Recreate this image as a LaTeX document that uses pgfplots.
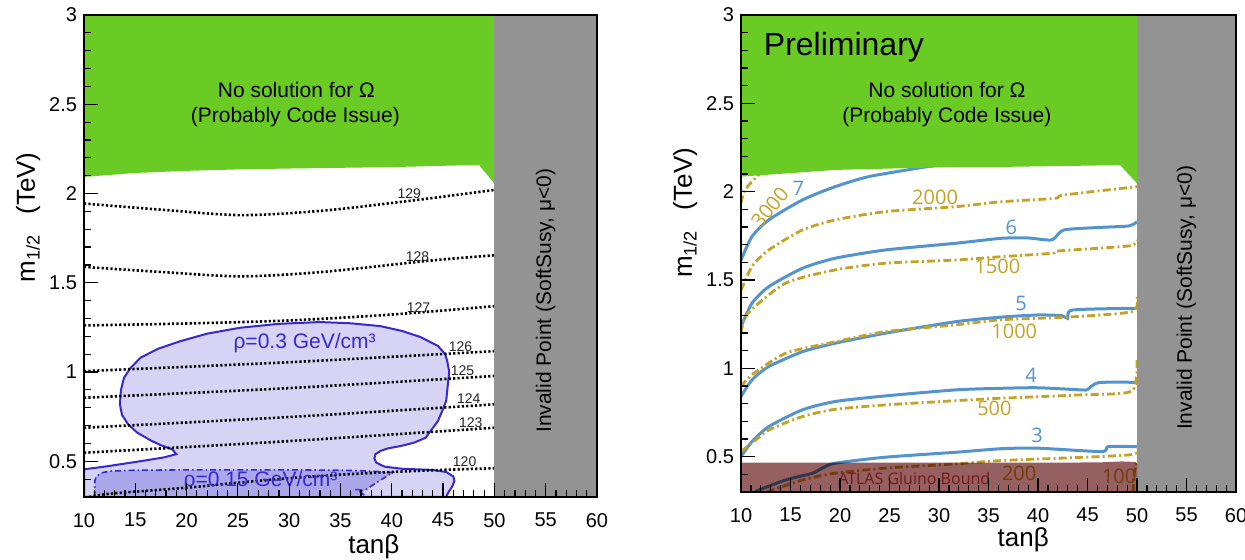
\documentclass[border=0pt]{standalone}
\usepackage{fontspec}
\setmainfont{Liberation Sans}
\newfontfamily\osans{Open Sans}
\usepackage{pgfplots}
\pgfplotsset{compat=1.18}
\definecolor{rootgreen}{RGB}{106,203,37}
\definecolor{rootgray}{RGB}{147,147,147}
\definecolor{rholine}{RGB}{55,40,210}
\definecolor{rhofill}{RGB}{214,211,244}
\definecolor{rhofillb}{RGB}{172,166,235}
\definecolor{cblue}{RGB}{84,148,206}
\definecolor{cgold}{RGB}{196,162,38}
\definecolor{atlas}{RGB}{150,96,96}
\definecolor{atlastext}{RGB}{115,25,25}
\pgfplotsset{
  panel/.style={
    scale only axis, anchor=south west,
    xmin=10, xmax=60, ymin=0.3, ymax=3,
    xtick={10,15,...,60}, ytick={0.5,1,1.5,2,2.5,3},
    minor x tick num=4,
    minor ytick={0.3,0.4,...,2.95},
    tick align=inside, tick pos=left,
    major tick length=7pt, minor tick length=3.5pt,
    every tick/.style={black, line width=0.6pt},
    axis line style={line width=1.2pt},
    axis on top,
    scaled ticks=false,
    /pgf/number format/assume math mode=true,
    tick label style={font=\fontsize{10}{12}\selectfont},
    xticklabel style={yshift=-4.5pt},
    label style={font=\fontsize{13}{15}\selectfont},
    xlabel={tanβ},
    ylabel={m\textsubscript{1/2}\hspace{10pt}(TeV)},
  },
  dotc/.style={black, line width=1.3pt, dash pattern=on 1.1pt off 1.1pt, smooth},
  bc/.style={cblue, line width=1.5pt, smooth, tension=0.4},
  gc/.style={cgold, line width=1.4pt, dash pattern=on 4pt off 1.6pt on 1pt off 1.6pt, smooth, tension=0.4},
}
\begin{document}
\begin{tikzpicture}
\useasboundingbox (0,0) rectangle (622.5pt,280pt);
% ---------------- left panel ----------------
\begin{axis}[panel, at={(42pt,31.5pt)}, width=256.5pt, height=241pt,
  xlabel style={at={(axis description cs:0.565,0)}, anchor=center, yshift=-25pt},
  ylabel style={at={(axis description cs:-0.109,0.58)}, anchor=center}]
\addplot[fill=rhofill, draw=rholine, line width=1pt] coordinates {
(10,0.3) (10,0.455) (12,0.47) (13.5,0.483) (16,0.505) (17.8,0.522) (19,0.54) (18.6,0.567) (17.5,0.59) (16.6,0.614) (15.2,0.66) (14.3,0.707) (13.7,0.76) (13.5,0.819) (13.6,0.9) (13.9,0.968) (14.5,1.02) (15.5,1.08) (17.2,1.13) (19.4,1.173) (22,1.215) (25.2,1.248) (29,1.27) (33,1.28) (36,1.273) (38.9,1.257) (41,1.23) (42.8,1.196) (44.5,1.146) (45.2,1.1) (45.4,1.062) (45.6,1.0) (45.5,0.95) (45.3,0.838) (44.9,0.78) (44.5,0.726) (43.3,0.632) (42.2,0.605) (40.9,0.586) (39.6,0.572) (38.9,0.558) (38.4,0.54) (38.3,0.515) (38.5,0.492) (39.3,0.47) (41,0.458) (43.9,0.452) (45.3,0.44) (46,0.415) (46.1,0.39) (45.9,0.36) (45.5,0.325) (45.3,0.3)} -- cycle;
\addplot[fill=rhofillb, draw=rholine, line width=0.8pt, dash pattern=on 3pt off 1.5pt on 0.8pt off 1.5pt] coordinates {
(11.05,0.3) (11.05,0.39) (11.2,0.415) (11.7,0.435) (12.5,0.445) (15,0.45) (20,0.452) (30,0.452) (35,0.45) (38,0.445) (40.1,0.437) (38.5,0.38) (37.3,0.335) (36.4,0.345) (37,0.325) (37.6,0.3)} -- cycle;
% Higgs mass contours
\addplot[dotc] coordinates {(10,1.944) (17.4,1.91) (25.3,1.879) (33.1,1.903) (40.9,1.953) (44.8,1.981) (50,2.02)};
\addplot[dotc] coordinates {(10,1.589) (17.4,1.561) (25.3,1.536) (33.1,1.56) (40.9,1.607) (44.8,1.63) (50,1.654)};
\addplot[dotc] coordinates {(10,1.261) (20,1.272) (30,1.289) (40,1.322) (50,1.369)};
\addplot[dotc] coordinates {(10,1.005) (30,1.055) (50,1.117)};
\addplot[dotc] coordinates {(10,0.856) (30,0.91) (50,0.978)};
\addplot[dotc] coordinates {(10,0.688) (30,0.748) (50,0.819)};
\addplot[dotc] coordinates {(10,0.548) (30,0.613) (50,0.688)};
\addplot[dotc] coordinates {(10.5,0.3) (12,0.315) (15,0.33) (20,0.352) (25,0.38) (30,0.405) (35,0.425) (40,0.44) (45,0.452) (50,0.461)};
% regions
\addplot[fill=rootgreen, draw=none] coordinates {(10,3) (10,2.093) (15,2.115) (20,2.127) (25,2.135) (30,2.14) (40,2.148) (48.5,2.16) (50,2.056) (50,3)} -- cycle;
\addplot[fill=rootgray, draw=none] coordinates {(50,0.3) (60,0.3) (60,3) (50,3)} -- cycle;
% labels
\begin{scope}[every node/.style={font=\fontsize{7}{8}\selectfont, text=black!85, inner sep=0pt}]
\node at (axis cs:41.7,2.0) {129};
\node at (axis cs:42.5,1.645) {128};
\node at (axis cs:42.6,1.36) {127};
\node at (axis cs:46.7,1.14) {126};
\node at (axis cs:46.9,1.01) {125};
\node at (axis cs:47.5,0.85) {124};
\node at (axis cs:47.7,0.716) {123};
\node at (axis cs:47.1,0.496) {120};
\end{scope}
\node[text=rholine, font=\fontsize{10.5}{12}\selectfont] at (axis cs:31.5,1.164) {ρ=0.3 GeV/cm³};
\node[text=rholine, font=\fontsize{10.5}{12}\selectfont] at (axis cs:27.2,0.39) {ρ=0.15 GeV/cm³};
\node[font=\fontsize{10.5}{12}\selectfont] at (axis cs:30.7,2.58) {No solution for Ω};
\node[font=\fontsize{10.5}{12}\selectfont] at (axis cs:30.6,2.43) {(Probably Code Issue)};
\node[rotate=90, font=\fontsize{10.5}{12}\selectfont] at (axis cs:55,1.40) {Invalid Point (SoftSusy, μ<0)};
\end{axis}
% ---------------- right panel ----------------
\begin{axis}[panel, at={(370.5pt,34pt)}, width=247.5pt, height=238.5pt,
  xlabel style={at={(axis description cs:0.57,0)}, anchor=center, yshift=-24pt},
  ylabel style={at={(axis description cs:-0.113,0.585)}, anchor=center}]
% blue contours
\addplot[bc] coordinates {(10,1.613) (11.1,1.745) (12.8,1.84) (16.2,1.953) (19.5,2.028) (22.9,2.085) (28.2,2.136) (30,2.15)};
\addplot[bc] coordinates {(10,1.236) (11.1,1.368) (12.8,1.462) (16.2,1.566) (19.5,1.623) (24.6,1.67) (31.7,1.708) (36.3,1.736) (39,1.738) (41.4,1.727) (42.6,1.783) (46.4,1.798) (49.2,1.806) (50,1.83)};
\addplot[bc] coordinates {(10,0.84) (11.1,0.934) (12.8,1.01) (16.2,1.094) (19.5,1.142) (24.6,1.199) (31.7,1.264) (36.3,1.29) (40,1.302) (42.4,1.298) (43,1.283) (43.5,1.33) (49.8,1.34) (50,1.34)};
\addplot[bc] coordinates {(10,0.5) (11.1,0.585) (12.8,0.67) (16.2,0.765) (19.5,0.812) (24.6,0.844) (31.7,0.878) (36.3,0.887) (40,0.89) (44.4,0.878) (45,0.88) (46.1,0.919) (49.8,0.921) (50,0.921)};
\addplot[bc] coordinates {(11.4,0.302) (14.5,0.368) (17.2,0.406) (18.2,0.435) (19.5,0.463) (24.6,0.497) (31.7,0.525) (36.3,0.545) (40,0.548) (46.4,0.529) (47.1,0.557) (49.8,0.557) (50,0.557)};
% gold contours
\addplot[gc] coordinates {(10,1.934) (10.4,2.01) (11.9,2.105) (12.3,2.14)};
\addplot[gc] coordinates {(10,1.44) (11.1,1.576) (12.8,1.67) (16.2,1.783) (19.5,1.84) (24.6,1.887) (31.7,1.915) (36.3,1.943) (41.7,1.962) (42.6,1.981) (50,2.028)};
\addplot[gc] coordinates {(10,1.2) (10.7,1.312) (14.5,1.482) (19.5,1.557) (24.6,1.595) (31.7,1.613) (36.3,1.632) (41.4,1.651) (42.2,1.665) (49.2,1.693) (50,1.727)};
\addplot[gc] coordinates {(10,0.896) (11.1,0.963) (14.5,1.085) (19.5,1.15) (24.6,1.208) (31.7,1.246) (36.3,1.275) (43,1.29) (49.5,1.321) (50,1.406)};
\addplot[gc] coordinates {(10,0.53) (11.1,0.576) (12.8,0.651) (16.2,0.727) (19.5,0.768) (24.6,0.793) (31.7,0.817) (36.3,0.831) (44.4,0.85) (49.5,0.872) (50,1.05)};
\addplot[gc] coordinates {(12.6,0.3) (16.2,0.368) (19.5,0.406) (24.6,0.435) (31.7,0.459) (36.3,0.478) (49.2,0.51) (50,0.557)};
\addplot[gc] coordinates {(49.6,0.3) (49.7,0.4) (50,0.48)};
% labels below overlay
\node[text=cgold, font=\osans\fontsize{10}{12}\selectfont] at (axis cs:38.1,0.406) {200};
\node[text=cgold, font=\osans\fontsize{10}{12}\selectfont] at (axis cs:48.2,0.387) {100};
% regions
\addplot[fill=rootgreen, draw=none] coordinates {(10,3) (10,2.085) (19.5,2.123) (31.7,2.14) (36.3,2.14) (48.3,2.15) (50,2.047) (50,3)} -- cycle;
\addplot[fill=rootgray, draw=none] coordinates {(50,0.3) (60,0.3) (60,3) (50,3)} -- cycle;
\addplot[fill=atlas, draw=none, blend mode=multiply] coordinates {(10,0.3) (10,0.466) (46,0.467) (48.5,0.473) (49.8,0.47) (50,0.46) (50,0.3)} -- cycle;
% labels
\begin{scope}[every node/.style={font=\osans\fontsize{10}{12}\selectfont}]
\node[text=cblue] at (axis cs:15.8,2.02) {7};
\node[text=cblue] at (axis cs:37.3,1.80) {6};
\node[text=cblue] at (axis cs:38.3,1.368) {5};
\node[text=cblue] at (axis cs:39.3,0.963) {4};
\node[text=cblue] at (axis cs:39.9,0.62) {3};
\node[text=cgold, rotate=50, inner sep=1pt] at (axis cs:12.9,1.91) {3000};
\node[text=cgold] at (axis cs:29.6,1.968) {2000};
\node[text=cgold] at (axis cs:35.9,1.576) {1500};
\node[text=cgold] at (axis cs:37.6,1.208) {1000};
\node[text=cgold] at (axis cs:35.6,0.774) {500};
\end{scope}
\node[text=atlastext, font=\osans\fontsize{8}{10}\selectfont] at (axis cs:27.5,0.374) {ATLAS Gluino Bound};
\node[anchor=west, font=\fontsize{16}{18}\selectfont] at (axis cs:11.6,2.82) {Preliminary};
\node[font=\fontsize{10.5}{12}\selectfont] at (axis cs:30.8,2.576) {No solution for Ω};
\node[font=\fontsize{10.5}{12}\selectfont] at (axis cs:30.8,2.42) {(Probably Code Issue)};
\node[rotate=90, font=\fontsize{10.5}{12}\selectfont] at (axis cs:55,1.40) {Invalid Point (SoftSusy, μ<0)};
\end{axis}
\end{tikzpicture}
\end{document}
